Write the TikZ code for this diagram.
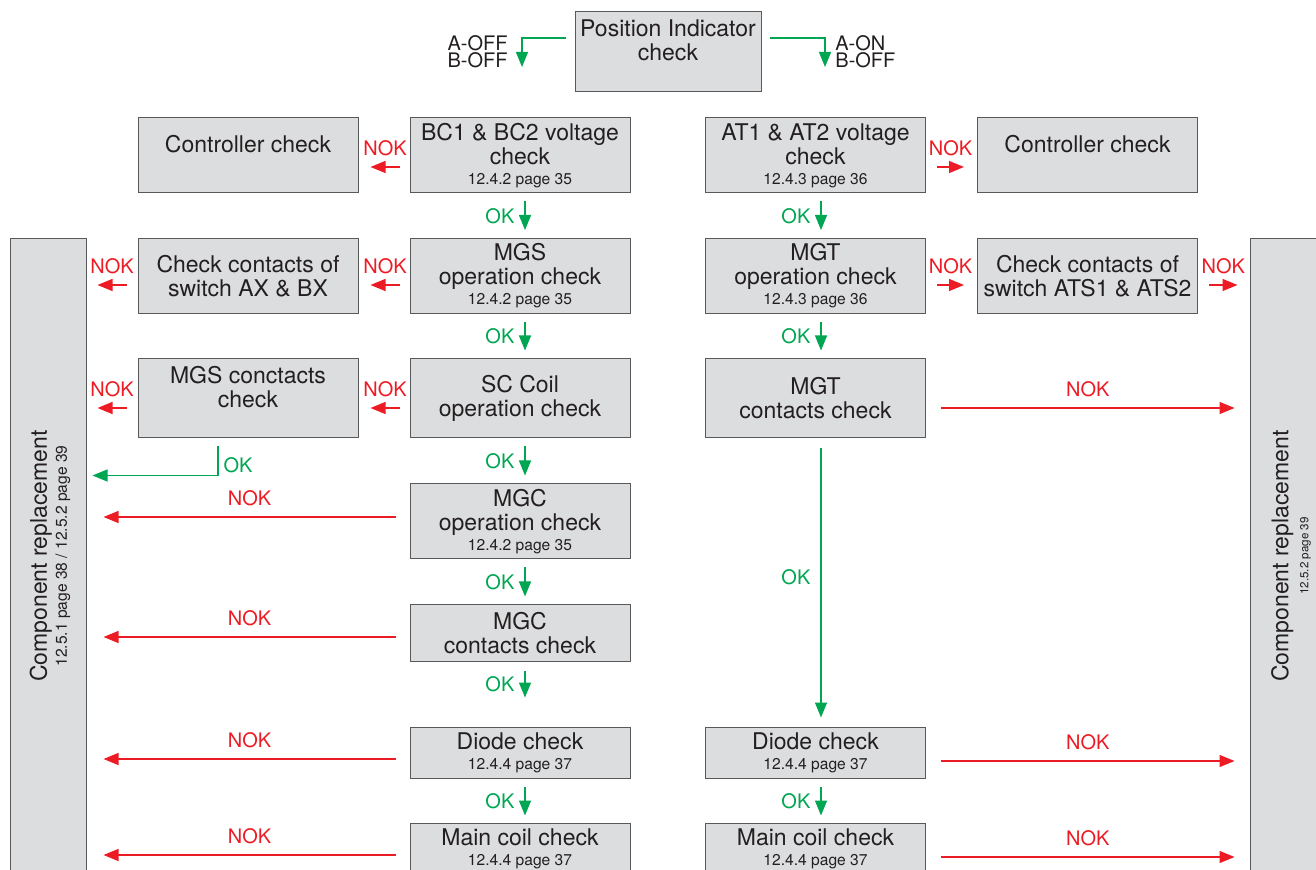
\documentclass[tikz,border=0pt]{standalone}
\usepackage{fontspec}
\setmainfont{TeX Gyre Heros}
\usepackage{xcolor}
\usepackage{tikz}
\usetikzlibrary{arrows.meta,calc}

\definecolor{nokred}{HTML}{ED1C24}
\definecolor{okgreen}{HTML}{00A651}
\definecolor{boxgray}{HTML}{DCDDDF}
\definecolor{edgegray}{HTML}{58595B}
\definecolor{ink}{HTML}{231F20}

% small reference line under a box title
\newcommand{\pg}[1]{\\[-2pt]{\fontsize{7.8}{8}\selectfont #1}}

\begin{document}
\begin{tikzpicture}[x=0.5pt,y=-0.5pt,
  box/.style={draw=edgegray, line width=0.5pt, fill=boxgray, text=ink, align=center,
    inner sep=0pt, minimum width=110pt, font=\fontsize{11.5}{12}\selectfont},
  nok/.style={draw=nokred, line width=0.65pt, -{Triangle[length=7.5pt,width=6pt]}},
  ok/.style={draw=okgreen, line width=0.65pt, -{Triangle[length=7.5pt,width=6pt]}},
  noklab/.style={text=nokred, inner sep=0pt, font=\fontsize{10}{10}\selectfont},
  oklab/.style={text=okgreen, inner sep=0pt, font=\fontsize{10}{10}\selectfont},
  state/.style={text=ink, inner sep=0pt, font=\fontsize{10}{8.5}\selectfont}]
  \useasboundingbox (0,0) rectangle (1316,870);
  \clip (0,0) rectangle (1316,870);

  % Position indicator
  \node[box, minimum width=93pt, minimum height=40pt] (pic) at (668,52)
    {Position Indicator\\check\\\mbox{}};
  \node[state, align=right, anchor=east] (offL) at (508,51.5) {A-OFF\\B-OFF};
  \node[state, align=left, anchor=west] (offR) at (835,51.5) {A-ON\\B-OFF};
  \draw[ok] ($(pic.west)+(-4.5pt,7pt)$) -| ($(offL.east)+(7pt,-7.75pt)$);
  \draw[ok] ($(pic.east)+(4pt,7pt)$) -| ($(offR.west)+(-5pt,-7.75pt)$);

  % Component replacement columns
  \node[box, minimum width=38pt, minimum height=333pt] (compL) at (48,572) {};
  \node[text=ink, align=center, rotate=90, font=\fontsize{11.5}{12}\selectfont] (compLtxt) at (50,556)
    {Component replacement\pg{12.5.1 page 38 / 12.5.2 page 39}};
  \node[box, minimum width=40pt, minimum height=333pt] (compR) at (1290,572) {};
  \node[text=ink, align=center, rotate=90, font=\fontsize{11.5}{12}\selectfont] (compRtxt) at (1291,556)
    {Component replacement\\[-2pt]{\fontsize{5.8}{6}\selectfont 12.5.2 page 39}};

  % A side (left)
  \node[box, minimum height=37.5pt] (ctrlL) at (248,155.5) {Controller check\\\mbox{}};
  \node[box, minimum height=37.5pt] (bcv) at (520,155.5) {BC1 \& BC2 voltage\\check\pg{12.4.2 page 35}};
  \node[box, minimum height=37.5pt] (swAX) at (248,276) {Check contacts of\\switch AX \& BX};
  \node[box, minimum height=37.5pt] (mgs) at (520,276) {MGS\\operation check\pg{12.4.2 page 35}};
  \node[box, minimum height=39.5pt] (mgsc) at (248,398.5) {MGS conctacts\\check\\\mbox{}};
  \node[box, minimum height=39.5pt] (scc) at (520,398.5) {SC Coil\\operation check};
  \node[box, minimum height=37.5pt] (mgcop) at (520,521.5) {MGC\\operation check\pg{12.4.2 page 35}};
  \node[box, minimum height=28pt] (mgcc) at (520,633) {MGC\\contacts check};
  \node[box, minimum height=25.5pt] (diodeL) at (520,752.5) {Diode check\pg{12.4.4 page 37}};
  \node[box, minimum height=25.5pt] (coilL) at (520,848.5) {Main coil check\pg{12.4.4 page 37}};

  % B side (right)
  \node[box, minimum height=37.5pt] (atv) at (815.5,155.5) {AT1 \& AT2 voltage\\check\pg{12.4.3 page 36}};
  \node[box, minimum height=37.5pt] (ctrlR) at (1087.5,155.5) {Controller check\\\mbox{}};
  \node[box, minimum height=37.5pt] (mgt) at (815.5,276) {MGT\\operation check\pg{12.4.3 page 36}};
  \node[box, minimum height=37.5pt] (swATS) at (1087.5,276) {Check contacts of\\switch ATS1 \& ATS2};
  \node[box, minimum height=39.5pt] (mgtc) at (815.5,398.5) {MGT\\contacts check};
  \node[box, minimum height=25.5pt] (diodeR) at (815.5,752.5) {Diode check\pg{12.4.4 page 37}};
  \node[box, minimum height=25.5pt] (coilR) at (815.5,848.5) {Main coil check\pg{12.4.4 page 37}};

  % NOK branches, left
  \draw[nok] ($(bcv.west)+(-5pt,-5.75pt)$) -- ($(ctrlL.east)+(6pt,-5.75pt)$)
    node[noklab, midway, above=5pt] (nokA1) {NOK};
  \draw[nok] ($(mgs.west)+(-5pt,-4.5pt)$) -- ($(swAX.east)+(6pt,-4.5pt)$)
    node[noklab, midway, above=5pt] (nokA2) {NOK};
  \draw[nok] ($(swAX.west)+(-5.5pt,-4.5pt)$) -- ($(compL.east |- swAX.west)+(5.5pt,-4.5pt)$)
    node[noklab, midway, above=5pt] (nokA3) {NOK};
  \draw[nok] ($(scc.west)+(-5pt,-4.75pt)$) -- ($(mgsc.east)+(6pt,-4.75pt)$)
    node[noklab, midway, above=5pt] (nokA4) {NOK};
  \draw[nok] ($(mgsc.west)+(-5.5pt,-4.75pt)$) -- ($(compL.east |- mgsc.west)+(5.5pt,-4.75pt)$)
    node[noklab, midway, above=5pt] (nokA5) {NOK};
  \draw[nok] ($(mgcop.west)+(-7pt,2.25pt)$) -- ($(compL.east |- mgcop.west)+(8.5pt,2.25pt)$)
    node[noklab, midway, above=5pt] (nokA6) {NOK};
  \draw[nok] ($(mgcc.west)+(-7pt,-2pt)$) -- ($(compL.east |- mgcc.west)+(8.5pt,-2pt)$)
    node[noklab, midway, above=5pt] (nokA7) {NOK};
  \draw[nok] ($(diodeL.west)+(-7pt,-3.25pt)$) -- ($(compL.east |- diodeL.west)+(8.5pt,-3.25pt)$)
    node[noklab, midway, above=5pt] (nokA8) {NOK};
  \draw[nok] ($(coilL.west)+(-7pt,-3.25pt)$) -- ($(compL.east |- coilL.west)+(8.5pt,-3.25pt)$)
    node[noklab, midway, above=5pt] (nokA9) {NOK};

  % NOK branches, right
  \draw[nok] ($(atv.east)+(5.5pt,-5.75pt)$) -- ($(ctrlR.west)+(-6.5pt,-5.75pt)$)
    node[noklab, midway, above=5pt] (nokB1) {NOK};
  \draw[nok] ($(mgt.east)+(5.5pt,-4.5pt)$) -- ($(swATS.west)+(-6.5pt,-4.5pt)$)
    node[noklab, midway, above=5pt] (nokB2) {NOK};
  \draw[nok] ($(swATS.east)+(5.5pt,-4.5pt)$) -- ($(compR.west |- swATS.east)+(-6pt,-4.5pt)$)
    node[noklab, midway, above=5pt] (nokB3) {NOK};
  \draw[nok] ($(mgtc.east)+(7.5pt,-4.75pt)$) -- ($(compR.west |- mgtc.east)+(-7.5pt,-4.75pt)$)
    node[noklab, midway, above=5pt] (nokB4) {NOK};
  \draw[nok] ($(diodeR.east)+(7.5pt,-4.25pt)$) -- ($(compR.west |- diodeR.east)+(-7.5pt,-4.25pt)$)
    node[noklab, midway, above=5pt] (nokB5) {NOK};
  \draw[nok] ($(coilR.east)+(7.5pt,-4.25pt)$) -- ($(compR.west |- coilR.east)+(-7.5pt,-4.25pt)$)
    node[noklab, midway, above=5pt] (nokB6) {NOK};

  % OK flow, left
  \draw[ok] ($(bcv.south)+(2.5pt,-4pt)$) -- ($(mgs.north)+(2.5pt,4pt)$)
    node[oklab, midway, left=5pt] (okA1) {OK};
  \draw[ok] ($(mgs.south)+(2.5pt,-4pt)$) -- ($(scc.north)+(2.5pt,4pt)$)
    node[oklab, midway, left=5pt] (okA2) {OK};
  \draw[ok] ($(scc.south)+(2.5pt,-4pt)$) -- ($(mgcop.north)+(2.5pt,4pt)$)
    node[oklab, midway, left=5pt] (okA3) {OK};
  \draw[ok] ($(mgcop.south)+(2.5pt,-4pt)$) -- ($(mgcc.north)+(2.5pt,4pt)$)
    node[oklab, midway, left=5pt] (okA4) {OK};
  \draw[ok] ($(mgcc.south)+(2.5pt,-4.5pt)$) -- ($(diodeL.north)+(2.5pt,14.5pt)$)
    node[oklab, midway, left=5pt] (okA5) {OK};
  \draw[ok] ($(diodeL.south)+(2.5pt,-4pt)$) -- ($(coilL.north)+(2.5pt,3.5pt)$)
    node[oklab, midway, left=5pt] (okA6) {OK};
  \draw[ok] ($(mgsc.south)+(-15pt,-4pt)$) -- ($(mgsc.south)+(-15pt,-18.5pt)$)
    node[oklab, pos=0.65, right=2.5pt] (okA7) {OK}
    -- ($(compL.east |- mgsc.south)+(3pt,-18.5pt)$);

  % OK flow, right
  \draw[ok] ($(atv.south)+(2.75pt,-4pt)$) -- ($(mgt.north)+(2.75pt,4pt)$)
    node[oklab, midway, left=5pt] (okB1) {OK};
  \draw[ok] ($(mgt.south)+(2.75pt,-4pt)$) -- ($(mgtc.north)+(2.75pt,4pt)$)
    node[oklab, midway, left=5pt] (okB2) {OK};
  \draw[ok] ($(mgtc.south)+(2.75pt,-5pt)$) -- ($(diodeR.north)+(2.75pt,4.5pt)$)
    node[oklab, pos=0.48, left=5pt] (okB3) {OK};
  \draw[ok] ($(diodeR.south)+(2.75pt,-4pt)$) -- ($(coilR.north)+(2.75pt,3.5pt)$)
    node[oklab, midway, left=5pt] (okB4) {OK};
\end{tikzpicture}
\end{document}
